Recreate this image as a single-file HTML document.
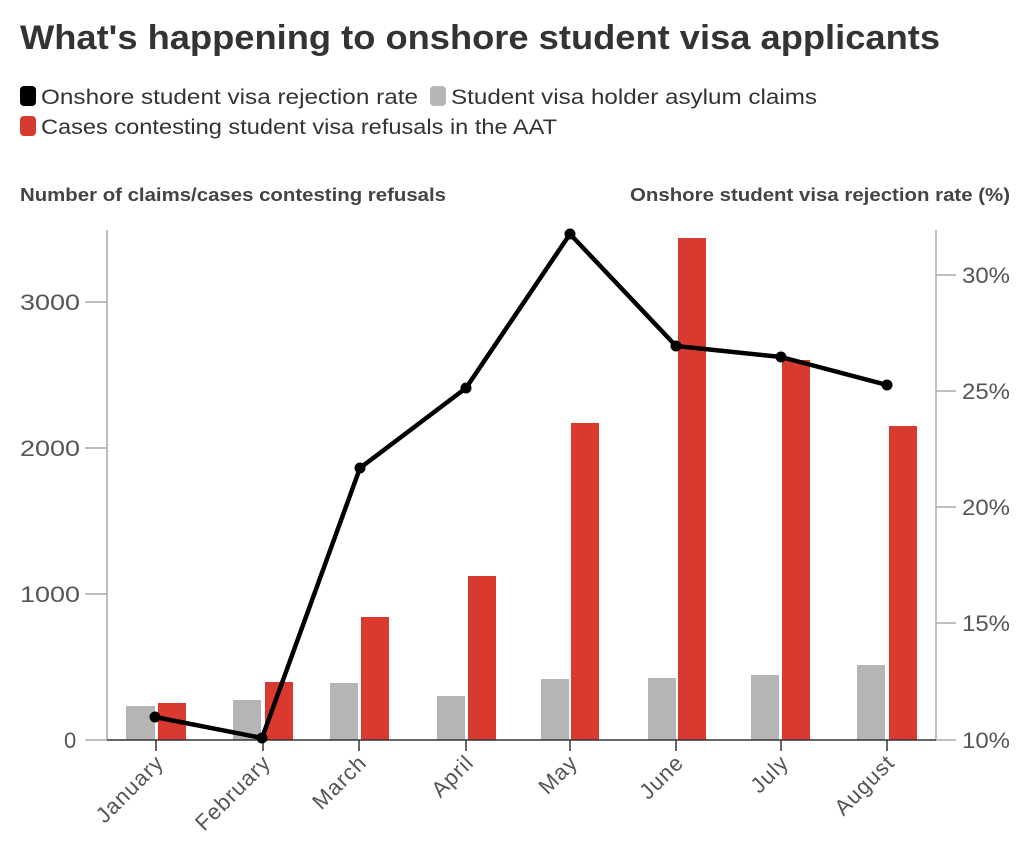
<!DOCTYPE html>
<html><head><meta charset="utf-8"><style>
body{margin:0;background:#fff;width:1024px;height:854px;overflow:hidden;font-family:"Liberation Sans",sans-serif}
</style></head><body>
<svg width="1024" height="854" xmlns="http://www.w3.org/2000/svg" font-family="Liberation Sans, sans-serif">
<text x="20" y="49" font-size="34" font-weight="bold" fill="#333" textLength="920" lengthAdjust="spacingAndGlyphs">What's happening to onshore student visa applicants</text>
<rect x="20" y="86" width="16" height="20" rx="4" fill="#000"/>
<text x="41" y="104" font-size="21" fill="#333" textLength="377" lengthAdjust="spacingAndGlyphs">Onshore student visa rejection rate</text>
<rect x="430" y="86" width="16" height="20" rx="4" fill="#b5b5b5"/>
<text x="451" y="104" font-size="21" fill="#333" textLength="366" lengthAdjust="spacingAndGlyphs">Student visa holder asylum claims</text>
<rect x="20" y="116" width="16" height="20" rx="4" fill="#d93a2f"/>
<text x="41" y="134" font-size="21" fill="#333" textLength="516" lengthAdjust="spacingAndGlyphs">Cases contesting student visa refusals in the AAT</text>
<text x="20" y="201" font-size="18" font-weight="bold" fill="#444" textLength="426" lengthAdjust="spacingAndGlyphs">Number of claims/cases contesting refusals</text>
<text x="630" y="201" font-size="18" font-weight="bold" fill="#444" textLength="380" lengthAdjust="spacingAndGlyphs">Onshore student visa rejection rate (%)</text>
<g stroke="#aaa" stroke-width="1.5">
<line x1="107" y1="230" x2="107" y2="740"/>
<line x1="936" y1="230" x2="936" y2="740"/>
<line x1="85" y1="740" x2="107" y2="740"/><line x1="85" y1="594" x2="107" y2="594"/><line x1="85" y1="448" x2="107" y2="448"/><line x1="85" y1="302" x2="107" y2="302"/>
<line x1="936" y1="740" x2="956" y2="740"/><line x1="936" y1="623" x2="956" y2="623"/><line x1="936" y1="507" x2="956" y2="507"/><line x1="936" y1="391" x2="956" y2="391"/><line x1="936" y1="275" x2="956" y2="275"/>
</g>
<g font-size="22" fill="#555">
<text x="64" y="748">0</text>
<text x="20" y="602" textLength="60" lengthAdjust="spacingAndGlyphs">1000</text>
<text x="20" y="456" textLength="60" lengthAdjust="spacingAndGlyphs">2000</text>
<text x="20" y="310" textLength="60" lengthAdjust="spacingAndGlyphs">3000</text>
</g>
<g font-size="22" fill="#555">
<text x="962" y="748" textLength="48" lengthAdjust="spacingAndGlyphs">10%</text>
<text x="962" y="631" textLength="48" lengthAdjust="spacingAndGlyphs">15%</text>
<text x="962" y="515" textLength="48" lengthAdjust="spacingAndGlyphs">20%</text>
<text x="962" y="399" textLength="48" lengthAdjust="spacingAndGlyphs">25%</text>
<text x="962" y="283" textLength="48" lengthAdjust="spacingAndGlyphs">30%</text>
</g>
<g fill="#b5b5b5">
<rect x="126" y="706" width="29" height="34"/><rect x="233" y="700" width="28" height="40"/><rect x="330" y="683" width="28" height="57"/><rect x="437" y="696" width="28" height="44"/><rect x="541" y="679" width="28" height="61"/><rect x="648" y="678" width="28" height="62"/><rect x="751" y="675" width="28" height="65"/><rect x="857" y="665" width="28" height="75"/>
</g>
<g fill="#d93a2f">
<rect x="158" y="703" width="28" height="37"/><rect x="265" y="682" width="28" height="58"/><rect x="361" y="617" width="28" height="123"/><rect x="468" y="576" width="28" height="164"/><rect x="571" y="423" width="28" height="317"/><rect x="678" y="238" width="28" height="502"/><rect x="782" y="360" width="28" height="380"/><rect x="889" y="426" width="28" height="314"/>
</g>
<line x1="107" y1="740" x2="936" y2="740" stroke="#333" stroke-width="1.5"/>
<g stroke="#333" stroke-width="1.5">
<line x1="156" y1="740" x2="156" y2="751"/><line x1="263" y1="740" x2="263" y2="751"/><line x1="359" y1="740" x2="359" y2="751"/><line x1="466" y1="740" x2="466" y2="751"/><line x1="570" y1="740" x2="570" y2="751"/><line x1="676" y1="740" x2="676" y2="751"/><line x1="781" y1="740" x2="781" y2="751"/><line x1="887" y1="740" x2="887" y2="751"/>
</g>
<polyline points="155,717 262,738 360,468 466,388 570,234 676,346 781,357 887,385" fill="none" stroke="#000" stroke-width="4.5" stroke-linejoin="round"/>
<g fill="#000">
<circle cx="155" cy="717" r="5.5"/><circle cx="262" cy="738" r="5.5"/><circle cx="360" cy="468" r="5.5"/><circle cx="466" cy="388" r="5.5"/><circle cx="570" cy="234" r="5.5"/><circle cx="676" cy="346" r="5.5"/><circle cx="781" cy="357" r="5.5"/><circle cx="887" cy="385" r="5.5"/>
</g>
<g font-size="22" fill="#555" text-anchor="end" letter-spacing="1">
<text transform="translate(165,764) rotate(-45)">January</text>
<text transform="translate(272,764) rotate(-45)">February</text>
<text transform="translate(368,764) rotate(-45)">March</text>
<text transform="translate(475,764) rotate(-45)">April</text>
<text transform="translate(579,764) rotate(-45)">May</text>
<text transform="translate(685,764) rotate(-45)">June</text>
<text transform="translate(790,764) rotate(-45)">July</text>
<text transform="translate(896,764) rotate(-45)">August</text>
</g>
</svg>
</body></html>
